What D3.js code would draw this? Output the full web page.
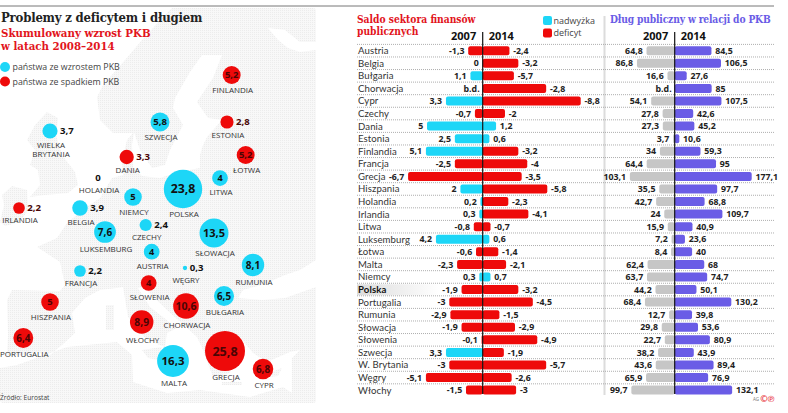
<!DOCTYPE html>
<html lang="pl">
<head>
<meta charset="utf-8">
<title>Problemy z deficytem i długiem</title>
<script src="https://cdn.jsdelivr.net/npm/d3@7"></script>
<style>
	html, body { margin: 0; padding: 0; background: #fff; }
	svg { display: block; }
	text { font-family: "Open Sans", sans-serif; }
	.serif { font-family: "DejaVu Serif Condensed", "DejaVu Serif", serif; font-weight: bold; font-stretch: condensed; }
	.val { font-weight: bold; font-size: 8.8px; fill: #222; }
	.year { font-weight: bold; font-size: 11px; fill: #111; }
	.name { font-family: Lato, sans-serif; font-size: 9.6px; fill: #333; letter-spacing: 0.1px; }
	.mapname { font-size: 8px; fill: #333; }
</style>
</head>
<body>
<svg id="chart" width="788" height="413"></svg>
<script>

// prawa strona: kraje i wartosci
var countries = ["Austria", "Belgia", "Bułgaria", "Chorwacja", "Cypr", "Czechy", "Dania",
	"Estonia", "Finlandia", "Francja", "Grecja", "Hiszpania", "Holandia", "Irlandia", "Litwa",
	"Luksemburg", "Łotwa", "Malta", "Niemcy", "Polska", "Portugalia", "Rumunia", "Słowacja",
	"Słowenia", "Szwecja", "W. Brytania", "Węgry", "Włochy"];

var saldo2007 = [-1.3, 0, 1.1, null, 3.3, -0.7, 5, 2.5, 5.1, -2.5, -6.7, 2, 0.2, 0.3, -0.8, 4.2,
	-0.6, -2.3, 0.3, -1.9, -3, -2.9, -1.9, -0.1, 3.3, -3, -5.1, -1.5];
var saldo2014 = [-2.4, -3.2, -5.7, -2.8, -8.8, -2, 1.2, 0.6, -3.2, -4, -3.5, -5.8, -2.3, -4.1,
	-0.7, 0.6, -1.4, -2.1, 0.7, -3.2, -4.5, -1.5, -2.9, -4.9, -1.9, -5.7, -2.6, -3];
// in the picture the bars of Bulgaria and Croatia are swapped against their labels
var saldo2014Bars = [-2.4, -3.2, -2.8, -5.7, -8.8, -2, 1.2, 0.6, -3.2, -4, -3.5, -5.8, -2.3, -4.1,
	-0.7, 0.6, -1.4, -2.1, 0.7, -3.2, -4.5, -1.5, -2.9, -4.9, -1.9, -5.7, -2.6, -3];

var dlug2007 = [64.8, 86.8, 16.6, null, 54.1, 27.8, 27.3, 3.7, 34, 64.4, 103.1, 35.5, 42.7, 24,
	15.9, 7.2, 8.4, 62.4, 63.7, 44.2, 68.4, 12.7, 29.8, 22.7, 38.2, 43.6, 65.9, 99.7];
var dlug2014 = [84.5, 106.5, 27.6, 85, 107.5, 42.6, 45.2, 10.6, 59.3, 95, 177.1, 97.7, 68.8, 109.7,
	40.9, 23.6, 40, 68, 74.7, 50.1, 130.2, 39.8, 53.6, 80.9, 43.9, 89.4, 76.9, 132.1];

// lewa strona: mapa, wzrost PKB (ujemne = spadek)
var mapNames = ["FINLANDIA", "ESTONIA", "ŁOTWA", "LITWA", "POLSKA", "SZWECJA", "WIELKA|BRYTANIA",
	"DANIA", "NIEMCY", "BELGIA", "IRLANDIA", "HOLANDIA", "LUKSEMBURG", "CZECHY", "AUSTRIA",
	"SŁOWACJA", "RUMUNIA", "WĘGRY", "FRANCJA", "SŁOWENIA", "BUŁGARIA", "HISZPANIA", "CHORWACJA",
	"WŁOCHY", "PORTUGALIA", "MALTA", "GRECJA", "CYPR"];
var mapValues = [-5.2, -2.8, -5.2, 4, 23.8, 5.8, 3.7, -3.3, 5, 3.9, -2.2, 0, 7.6, 2.4, 4, 13.5,
	8.1, 0.3, 2.2, -4, 6.5, -5, -10.6, -8.9, -6.4, 16.3, -25.8, -6.8];
// map position of each bubble, in the degrees of the drawn map
var mapLon = [27.07, 26.32, 29.31, 25.2, 19.28, 15.6, -2, 10.27, 11.28, 2.8, -6.96, 5.68, 6.8,
	13.31, 14.27, 24.24, 30.48, 19.6, 2.8, 13.79, 25.84, -2, 19.76, 12.67, -6.27, 17.68, 26, 32.08];
var mapLat = [62.5, 57.8, 54.5, 52.2, 51.1, 57.8, 56.9, 54.3, 50.3, 49.2, 49.2, 52.2, 46.8, 47.5,
	44.83, 46.7, 43.5, 43.2, 42.9, 41.7, 40.4, 39.8, 39.4, 37.8, 36.2, 33.9, 34.9, 33.1];

// coastline sketch of the backdrop, plate pixels
var seaOutline = [[0,0],[180,0],[165,15],[142,40],[125,60],[103,85],[97,97],[100,120],[113,133],
	[133,133],[127,140],[122,160],[123,175],[112,178],[100,198],[85,208],[67,223],[57,238],[37,247],
	[60,262],[65,285],[60,291],[12,290],[7,300],[8,335],[7,356],[30,354],[37,352],[50,355],[62,345],
	[75,333],[72,313],[85,298],[100,290],[117,288],[123,287],[128,317],[147,340],[165,347],[167,333],
	[177,328],[150,307],[138,288],[143,287],[167,310],[197,337],[203,350],[213,377],[230,373],[240,337],
	[253,353],[267,362],[290,352],[300,350],[292,358],[292,393],[283,387],[250,397],[200,390],[167,393],
	[133,382],[132,355],[117,342],[67,347],[17,365],[0,368]];
var balticOutline = [[202,55],[222,55],[213,78],[197,102],[208,118],[222,120],[207,137],[203,145],
	[200,155],[200,168],[178,172],[160,178],[142,176],[133,168],[132,145],[134,132],[140,150],[152,168],
	[165,165],[170,150],[183,125],[173,108],[175,98],[190,72]];
var blackSeaOutline = [[316,260],[300,270],[285,275],[262,285],[243,290],[238,298],[262,300],[285,298],[316,287]];
var whiteSeaOutline = [[268,28],[285,30],[300,42],[316,42],[316,50],[300,52],[288,48],[278,40]];
var islandOutlines = [
	[[47,112],[58,118],[56,135],[62,155],[75,172],[78,185],[68,193],[45,195],[30,197],[40,185],[38,170],[30,165],[35,150],[27,140],[35,125]],
	[[12,186],[27,190],[28,210],[20,222],[5,226],[0,222],[4,205],[2,195]],
	[[142,350],[162,347],[158,360],[148,358]],
	[[106,305],[114,305],[114,330],[106,330]],
	[[222,382],[242,382],[242,385],[222,385]],
	[[268,373],[282,368],[278,376],[270,377]]
];

var cyan = "#1dd6f7";
var red = "#ee0a0a";
var purple = "#6a5ce6";
var grey = "#c6c6c6";
var redTitle = "#e2141c";

var svg = d3.select("#chart");

// polish number format
function fmt(v) {
	return String(v).replace(".", ",");
}

var defs = svg.append("defs");

var dots = defs.append("pattern")
			.attr("id", "landDots")
			.attr("width", 2)
			.attr("height", 2)
			.attr("patternUnits", "userSpaceOnUse");
dots.append("rect").attr("width", 2).attr("height", 2).attr("fill", "#f8f8f8");
dots.append("rect").attr("width", 1).attr("height", 1).attr("fill", "#ececec");

var fade = defs.append("linearGradient").attr("id", "polskaFade");
fade.append("stop").attr("offset", "0%").attr("stop-color", "#dcdcdc");
fade.append("stop").attr("offset", "100%").attr("stop-color", "#ffffff");


function drawBackdrop() {

	var outline = d3.line().curve(d3.curveLinearClosed);
	var plate = svg.append("g").attr("class", "backdrop");

	plate.append("rect")
		.attr("x", 0)
		.attr("y", 8)
		.attr("width", 316)
		.attr("height", 395)
		.attr("rx", 3)
		.attr("fill", "url(#landDots)");

	plate.selectAll("path.sea")
		.data([seaOutline, balticOutline, blackSeaOutline, whiteSeaOutline])
		.enter().append("path")
		.attr("class", "sea")
		.attr("d", outline)
		.attr("fill", "#fff");

	plate.selectAll("path.island")
		.data(islandOutlines)
		.enter().append("path")
		.attr("class", "island")
		.attr("d", outline)
		.attr("fill", "url(#landDots)");
}


function drawMap() {

	var x = d3.scaleLinear().domain([-10, 40]).range([0, 312.5]);
	var y = d3.scaleLinear().domain([70, 30]).range([0, 400]);
	var r = d3.scaleSqrt().domain([0, 25.8]).range([0, 20]);
	var size = d3.scaleLinear().domain([8, 20]).range([9.2, 12.6]);

	var rows = mapNames.map(function(name, i) {
		return {name: name, value: mapValues[i], lon: mapLon[i], lat: mapLat[i]};
	});

	var node = svg.append("g").attr("class", "bubbles")
				.selectAll("g")
				.data(rows)
				.enter().append("g")
				.attr("transform", function(d) {
					return "translate(" + x(d.lon) + "," + y(d.lat) + ")"; });

	node.append("circle")
		.attr("r", function(d) { return r(Math.abs(d.value)); })
		.attr("fill", function(d) { return d.value < 0 ? red : cyan; });

	// big bubbles hold their number, small ones have it to the right
	node.append("text")
		.attr("class", "val")
		.attr("dy", "0.36em")
		.attr("text-anchor", function(d) {
			var rr = r(Math.abs(d.value));
			return rr >= 7.8 || d.value == 0 ? "middle" : "start"; })
		.attr("x", function(d) {
			var rr = r(Math.abs(d.value));
			return rr >= 7.8 || d.value == 0 ? 0 : rr + 2.5; })
		.style("font-size", function(d) {
			var rr = r(Math.abs(d.value));
			return (rr >= 7.8 ? size(rr) : 9.6) + "px"; })
		.style("fill", function(d) { return d.value < 0 ? "#4a0505" : "#111"; })
		.text(function(d) { return fmt(Math.abs(d.value)); });

	node.each(function(d) {
		var rr = r(Math.abs(d.value));
		var parts = d.name.split("|");
		var base = Math.max(rr + 9, 15);
		d3.select(this).selectAll("text.mapname")
			.data(parts)
			.enter().append("text")
			.attr("class", "mapname")
			.attr("text-anchor", "middle")
			.attr("x", 1)
			.attr("y", function(p, i) { return base + i * 9.5; })
			.text(function(p) { return p; });
	});
}


function drawHeadings() {

	svg.append("line")
		.attr("x1", 0).attr("x2", 774)
		.attr("y1", 6).attr("y2", 6)
		.style("stroke", "#777")
		.style("stroke-width", 1);

	svg.append("text")
		.attr("class", "serif")
		.attr("x", 1).attr("y", 22)
		.style("font-size", "13px")
		.style("letter-spacing", "-0.2px")
		.style("fill", "#222")
		.text("Problemy z deficytem i długiem");

	var sub = ["Skumulowany wzrost PKB", "w latach 2008–2014"];
	svg.selectAll("text.sub")
		.data(sub)
		.enter().append("text")
		.attr("class", "serif sub")
		.attr("x", 1)
		.attr("y", function(d, i) { return 37 + i * 13.4; })
		.style("font-size", "11.4px")
		.style("fill", redTitle)
		.text(function(d) { return d; });

	var mapLegend = [{t: "państwa ze wzrostem PKB", c: cyan}, {t: "państwa ze spadkiem PKB", c: red}];
	var ml = svg.selectAll("g.mapLegend")
				.data(mapLegend)
				.enter().append("g")
				.attr("class", "mapLegend")
				.attr("transform", function(d, i) {
					return "translate(5," + (67 + i * 14.5) + ")"; });
	ml.append("circle").attr("r", 5).attr("fill", function(d) { return d.c; });
	ml.append("text")
		.attr("x", 7.5)
		.attr("dy", "0.35em")
		.style("font-size", "8.8px")
		.style("fill", "#444")
		.text(function(d) { return d.t; });

	svg.append("text")
		.attr("x", 0).attr("y", 400)
		.style("font-size", "6.6px")
		.style("fill", "#444")
		.text("Źródło: Eurostat");

	var head = ["Saldo sektora finansów", "publicznych"];
	svg.selectAll("text.head")
		.data(head)
		.enter().append("text")
		.attr("class", "serif head")
		.attr("x", 357)
		.attr("y", function(d, i) { return 23 + i * 12; })
		.style("font-size", "10.2px")
		.style("fill", redTitle)
		.text(function(d) { return d; });

	var barLegend = [{t: "nadwyżka", c: cyan}, {t: "deficyt", c: red}];
	var bl = svg.selectAll("g.barLegend")
				.data(barLegend)
				.enter().append("g")
				.attr("class", "barLegend")
				.attr("transform", function(d, i) {
					return "translate(543," + (16 + i * 12.5) + ")"; });
	bl.append("rect")
		.attr("width", 9).attr("height", 9).attr("rx", 2)
		.attr("fill", function(d) { return d.c; });
	bl.append("text")
		.attr("x", 10.5).attr("y", 4.5)
		.attr("dy", "0.35em")
		.style("font-size", "9px")
		.style("fill", "#444")
		.text(function(d) { return d.t; });

	svg.append("text")
		.attr("class", "serif")
		.attr("x", 610).attr("y", 23)
		.style("font-size", "10.2px")
		.style("letter-spacing", "-0.15px")
		.style("fill", purple)
		.text("Dług publiczny w relacji do PKB");

	svg.append("line")
		.attr("x1", 604.5).attr("x2", 604.5)
		.attr("y1", 16).attr("y2", 395)
		.style("stroke", "#dcdcdc")
		.style("stroke-width", 2);

	svg.append("text")
		.attr("x", 753).attr("y", 401)
		.style("font-size", "4.5px")
		.style("fill", "#777")
		.text("AG");

	svg.selectAll("text.logo")
		.data(["©", "℗"])
		.enter().append("text")
		.attr("class", "logo")
		.attr("x", function(d, i) { return 764 + i * 7; })
		.attr("y", 402)
		.attr("text-anchor", "middle")
		.style("font-size", "9px")
		.style("font-weight", "bold")
		.style("fill", "#e8323c")
		.text(function(d) { return d; });
}


function drawTable() {

	var yRow = d3.scaleBand().domain(countries).range([44.4, 396.4]);

	svg.append("rect")
		.attr("x", 357).attr("y", yRow("Polska") + 1)
		.attr("width", 82).attr("height", yRow.step() - 1.5)
		.attr("fill", "url(#polskaFade)");

	svg.append("g").attr("class", "rules")
		.selectAll("line")
		.data(countries)
		.enter().append("line")
		.attr("x1", 357).attr("x2", 774)
		.attr("y1", function(d) { return yRow(d); })
		.attr("y2", function(d) { return yRow(d); })
		.style("stroke", "#999")
		.style("stroke-width", 0.8)
		.style("stroke-dasharray", "1,1");

	svg.append("g").attr("class", "names")
		.selectAll("text")
		.data(countries)
		.enter().append("text")
		.attr("class", "name")
		.attr("x", 358)
		.attr("y", function(d) { return yRow(d) + yRow.step() / 2; })
		.attr("dy", "0.36em")
		.style("font-weight", function(d) { return d == "Polska" ? "bold" : null; })
		.style("fill", function(d) { return d == "Polska" ? "#111" : null; })
		.text(function(d) { return d; });

	return yRow;
}


// one half of a butterfly panel: dir -1 grows left of the axis, +1 right
function drawSide(yRow, centre, scale, dir, bars, labels, colour) {

	var rows = countries.map(function(c, i) {
		return {country: c, bar: bars[i], label: labels[i]};
	});
	var barH = 9;

	var side = svg.append("g").attr("class", "side");

	side.selectAll("rect")
		.data(rows.filter(function(d) { return d.bar !== null && d.bar != 0; }))
		.enter().append("rect")
		.attr("x", function(d) {
			return dir < 0 ? centre - scale(Math.abs(d.bar)) : centre; })
		.attr("y", function(d) { return yRow(d.country) + (yRow.step() - barH) / 2; })
		.attr("width", function(d) { return scale(Math.abs(d.bar)); })
		.attr("height", barH)
		.attr("rx", 2)
		.attr("fill", function(d) { return colour(d.bar); });

	side.selectAll("text")
		.data(rows)
		.enter().append("text")
		.attr("class", "val")
		.attr("text-anchor", dir < 0 ? "end" : "start")
		.attr("x", function(d) {
			var w = d.bar === null ? 0 : scale(Math.abs(d.bar));
			return centre + dir * (w + (d.bar === null ? 3 : 3.8)); })
		.attr("y", function(d) { return yRow(d.country) + yRow.step() / 2; })
		.attr("dy", "0.36em")
		.text(function(d) { return d.label === null ? "b.d." : fmt(d.label); });
}


function drawPanel(yRow, centre, scale, left, right, rightBars, colourLeft, colourRight) {

	drawSide(yRow, centre, scale, -1, left, left, colourLeft);
	drawSide(yRow, centre, scale, 1, rightBars, right, colourRight);

	svg.append("line")
		.attr("x1", centre).attr("x2", centre)
		.attr("y1", 32).attr("y2", 394)
		.style("stroke", "#111")
		.style("stroke-width", 1.2);

	svg.append("text")
		.attr("class", "year")
		.attr("x", centre - 6.5).attr("y", 40)
		.attr("text-anchor", "end")
		.text("2007");

	svg.append("text")
		.attr("class", "year")
		.attr("x", centre + 6).attr("y", 40)
		.text("2014");
}


drawBackdrop();
drawMap();
drawHeadings();

var yRow = drawTable();

var xSaldo = d3.scaleLinear().domain([0, 8.8]).range([0, 98]);
var xDlug = d3.scaleLinear().domain([0, 177.1]).range([0, 77]);

function saldoColour(v) { return v < 0 ? red : cyan; }

drawPanel(yRow, 482.7, xSaldo, saldo2007, saldo2014, saldo2014Bars, saldoColour, saldoColour);
drawPanel(yRow, 674.7, xDlug, dlug2007, dlug2014, dlug2014,
	function() { return grey; }, function() { return purple; });

</script>
</body>
</html>
